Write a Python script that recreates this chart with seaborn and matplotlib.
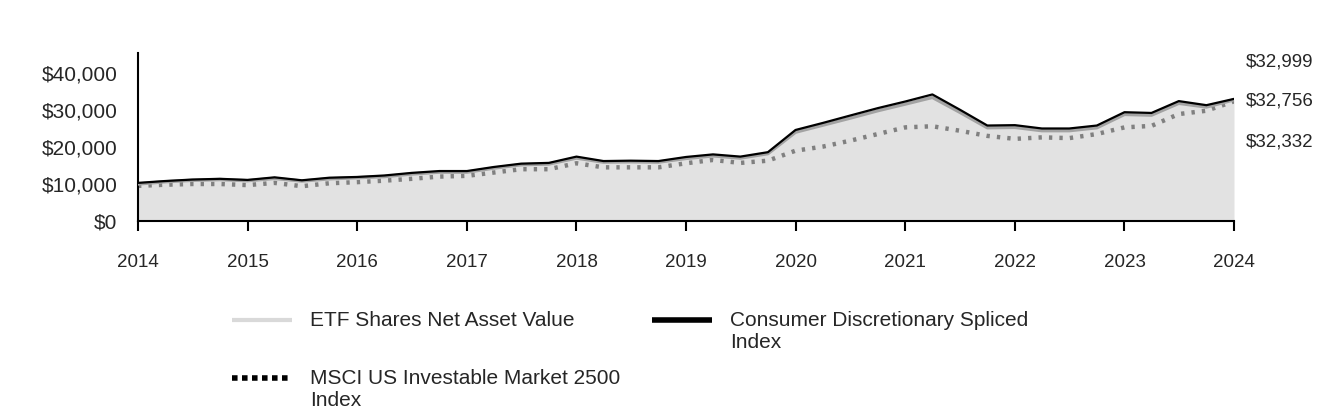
import matplotlib
matplotlib.use("Agg")
import matplotlib.pyplot as plt
from matplotlib.lines import Line2D
import seaborn as sns
import pandas as pd

quarters = pd.date_range("2014-01-01", "2024-01-01", freq="QS")

consumer_index = [10300, 10800, 11200, 11400, 11100, 11800, 11000, 11700, 11900, 12300,
                  13000, 13500, 13500, 14600, 15500, 15700, 17400, 16200, 16300, 16200,
                  17300, 18000, 17400, 18600, 24600, 26500, 28500, 30500, 32300, 34200,
                  30100, 25800, 25900, 25000, 25000, 25800, 29400, 29200, 32400, 31300, 32999]
etf_nav = [10000, 10600, 11000, 11200, 10900, 11500, 10800, 11400, 11700, 12000,
           12700, 13200, 13200, 14300, 15200, 15400, 17000, 15900, 16000, 15900,
           16900, 17600, 17000, 18200, 24000, 25900, 27800, 29800, 31600, 33400,
           29400, 25200, 25300, 24400, 24400, 25200, 28800, 28600, 31800, 30800, 32756]
msci_index = [9500, 9800, 10000, 10000, 9700, 10300, 9400, 10200, 10500, 10900,
              11400, 12000, 12200, 13100, 14000, 14000, 15600, 14500, 14500, 14500,
              15600, 16500, 15700, 16300, 19000, 20100, 21700, 23500, 25300, 25600,
              24400, 23000, 22200, 22600, 22400, 23500, 25300, 25700, 28900, 29800, 32332]

end_labels = ["$32,999", "$32,756", "$32,332"]
legend_labels = ["ETF Shares Net Asset Value", "Consumer Discretionary Spliced\nIndex",
                 "MSCI US Investable Market 2500\nIndex"]
y_ticks = [0, 10000, 20000, 30000, 40000]
y_tick_labels = ["$0", "$10,000", "$20,000", "$30,000", "$40,000"]
year_ticks = list(range(2014, 2025))

sns.set_style("white")
plt.rcParams["font.family"] = ["Liberation Sans", "DejaVu Sans"]

df = pd.DataFrame({"date": quarters, "etf": etf_nav, "idx": consumer_index, "msci": msci_index})

fig = plt.figure(figsize=(13.44, 4.2), dpi=100)
ax = fig.add_axes([138 / 1344, 1 - 221 / 420, (1234 - 138) / 1344, (221 - 53) / 420])

ax.fill_between(df["date"], 0, df["etf"], color="#e2e2e2", lw=0, zorder=1)
sns.lineplot(data=df, x="date", y="msci", ax=ax, color="#808080", lw=3.2, zorder=2)
ax.lines[-1].set_dashes((0.75, 1.6))
ax.lines[-1].set_dash_capstyle("butt")
sns.lineplot(data=df, x="date", y="etf", ax=ax, color="#a3a3a3", lw=2.4, zorder=3)
sns.lineplot(data=df, x="date", y="idx", ax=ax, color="#000000", lw=1.6, zorder=4)

ax.set_xlim(pd.Timestamp("2014-01-01"), pd.Timestamp("2024-01-01"))
ax.set_ylim(0, 45400)
ax.set_yticks(y_ticks)
ax.set_yticklabels(y_tick_labels, fontsize=15)
ax.set_xticks([pd.Timestamp(f"{y}-01-01") for y in year_ticks])
ax.set_xticklabels([str(y) for y in year_ticks], fontsize=13.5)
ax.tick_params(axis="y", left=False, length=0, pad=15)
ax.tick_params(axis="x", bottom=True, length=7, width=1.5, color="black", direction="out", pad=17)
ax.set_xlabel("")
ax.set_ylabel("")
for s in ["top", "right"]:
    ax.spines[s].set_visible(False)
for s in ["left", "bottom"]:
    ax.spines[s].set_color("black")
    ax.spines[s].set_linewidth(1.5)

for lab, ypx in zip(end_labels, [62, 101, 142]):
    fig.text(1246 / 1344, 1 - ypx / 420, lab, fontsize=13.5, va="center", ha="left")

# legend
def leg(x0, ypx, color, lw, dashes, text):
    ln = Line2D([x0 / 1344, (x0 + 60) / 1344], [1 - ypx / 420] * 2, color=color, lw=lw,
                transform=fig.transFigure, solid_capstyle="butt", dash_capstyle="butt")
    if dashes:
        ln.set_dashes(dashes)
    fig.add_artist(ln)
    fig.text((x0 + 78) / 1344, 1 - (ypx - 9) / 420, text, fontsize=15, va="top", ha="left",
             linespacing=1.2)

leg(232, 320, "#d9d9d9", 3, None, legend_labels[0])
leg(652, 320, "#000000", 4, None, legend_labels[1])
leg(232, 378, "#000000", 4, (1, 0.8), legend_labels[2])

fig.savefig("out.png", dpi=100)
